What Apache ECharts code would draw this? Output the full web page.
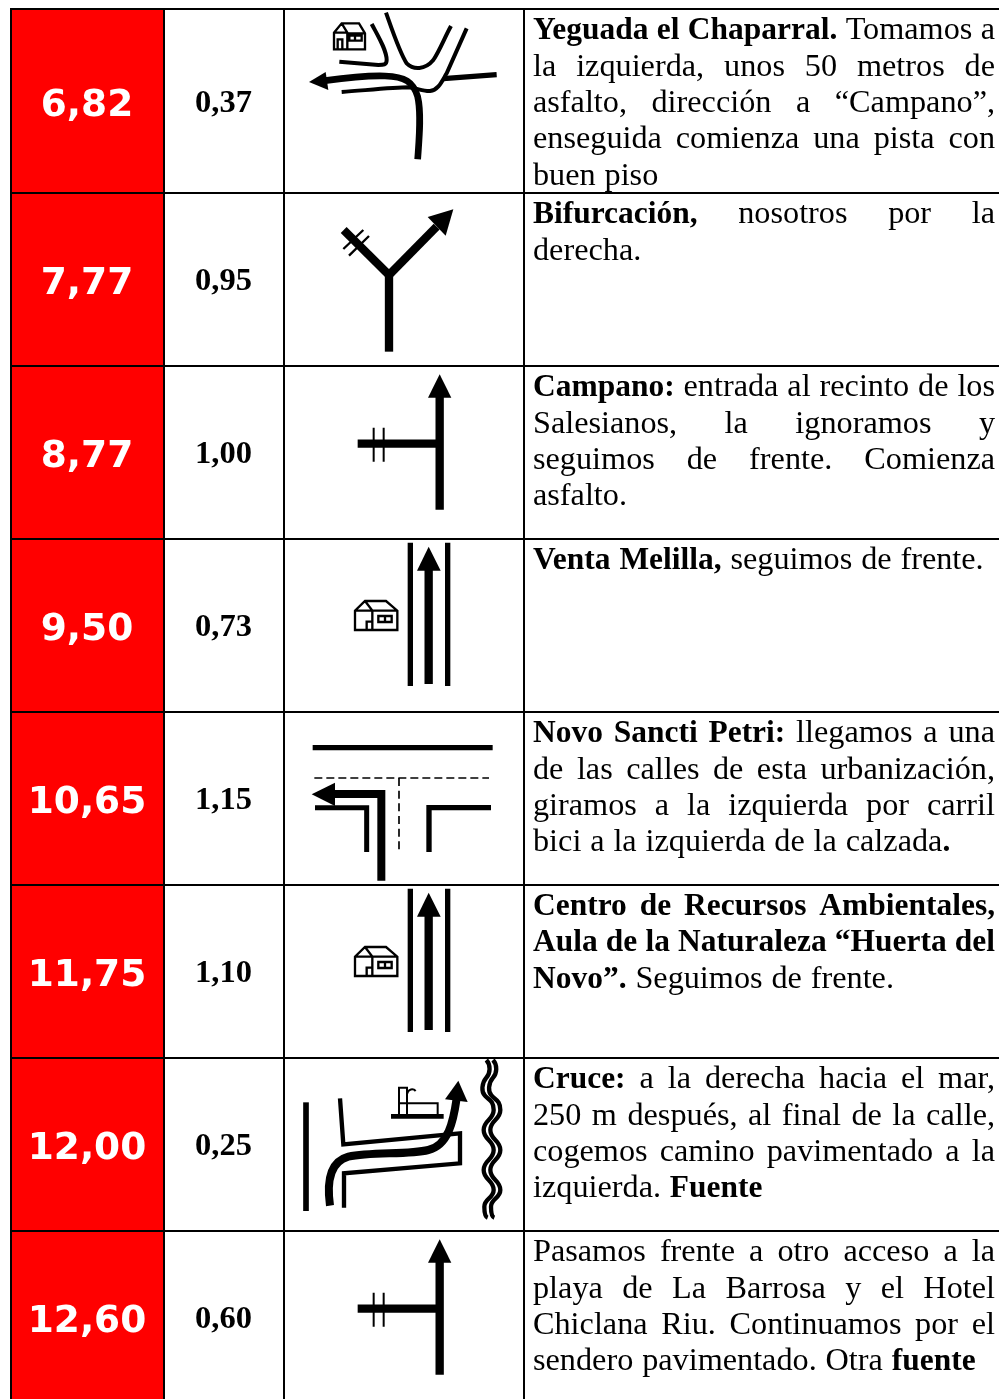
<!DOCTYPE html>
<html>
<head>
<meta charset="utf-8">
<title>Rutómetro</title>
<style>
html, body { margin: 0; padding: 0; background: #fff; overflow: hidden; }
#main { width: 999px; height: 1399px; }
</style>
<script src="https://cdn.jsdelivr.net/npm/echarts@6/dist/echarts.min.js"></script>
</head>
<body>
<div id="main"></div>
<script>
// datos de la tabla
var kmTotal = ['6,82', '7,77', '8,77', '9,50', '10,65', '11,75', '12,00', '12,60'];
var kmParcial = ['0,37', '0,95', '1,00', '0,73', '1,15', '1,10', '0,25', '0,60'];
// *negrita* entre asteriscos, cada elemento es una linea del texto
var descripcion = [
    ['*Yeguada el Chaparral.* Tomamos a', 'la izquierda, unos 50 metros de', 'asfalto, dirección a “Campano”,', 'enseguida comienza una pista con', 'buen piso'],
    ['*Bifurcación,* nosotros por la', 'derecha.'],
    ['*Campano:* entrada al recinto de los', 'Salesianos, la ignoramos y', 'seguimos de frente. Comienza', 'asfalto.'],
    ['*Venta Melilla,* seguimos de frente.'],
    ['*Novo Sancti Petri:* llegamos a una', 'de las calles de esta urbanización,', 'giramos a la izquierda por carril', 'bici a la izquierda de la calzada*.*'],
    ['*Centro de Recursos Ambientales,*', '*Aula de la Naturaleza “Huerta del*', '*Novo”.* Seguimos de frente.'],
    ['*Cruce:* a la derecha hacia el mar,', '250 m después, al final de la calle,', 'cogemos camino pavimentado a la', 'izquierda. *Fuente*'],
    ['Pasamos frente a otro acceso a la', 'playa de La Barrosa y el Hotel', 'Chiclana Riu. Continuamos por el', 'sendero pavimentado. Otra *fuente*']
];
var iconoFila = ['cruce', 'bifurcacion', 'recto', 'casa', 'calles', 'casa', 'fuente', 'recto'];

// bordes de la tabla, en unidades de los ejes
var filas = [9, 193, 366, 539, 712, 885, 1058, 1231, 1404];
var cols = [11, 164, 284, 524, 1002];

// pictogramas: trazos en unidades 3x, con su origen respecto a la celda
var iconos = {
    cruce: {
        dx: 1, dy: -9,
        trazos: [
            ['M398 478C402 420 410 340 398 290C385 245 360 230 300 228C240 226 170 235 120 242', 20],
            ['M635 224L475 236', 16],
            ['M170 276C250 270 330 262 370 262C395 265 420 275 435 273C460 270 470 245 485 220L545 85', 12],
            ['M303 38C325 100 345 160 365 190C385 210 420 210 445 180C465 150 480 110 498 78', 12],
            ['M260 72C280 110 305 150 305 180C305 195 295 195 280 195L163 185', 12],
            ['M147 148V98L170 70H222L240 100V148ZM147 98H187L170 70M187 98V148M187 100H240M158 148V118H172V148M193 107H230V122H193ZM210 107V122', 7]
        ],
        rellenos: ['M72 246L122 216L130 270Z']
    },
    bifurcacion: {
        dx: 1, dy: 2,
        trazos: [
            ['M312 470V240', 25],
            ['M312 240L176 105', 25],
            ['M312 240L455 95', 25],
            ['M175 162L235 105M192 182L252 123', 7]
        ],
        rellenos: ['M505 43L428 66L482 122Z']
    },
    recto: {
        dx: 1, dy: -171,
        trazos: [
            ['M464 944V600', 25],
            ['M218 746H464', 25],
            ['M266 698V800M296 698V800', 6]
        ],
        rellenos: ['M464 538L429 608H499Z']
    },
    casa: {
        dx: 1, dy: 1,
        trazos: [
            ['M376 8V438', 16],
            ['M488 8V438', 16],
            ['M431 90V432', 25],
            ['M210 270V212L240 183H303L337 212V270ZM210 212H262L240 183M262 212V270M262 212H337M245 270V245H262M280 228H320V246H280ZM300 228V246', 7]
        ],
        rellenos: ['M431 20L396 92H467Z']
    },
    calles: {
        dx: 1, dy: -172,
        trazos: [
            ['M83 623H623', 16],
            ['M88 714H612', 5, [24, 12]],
            ['M342 714V942', 5, [24, 14]],
            ['M289 1022V762H140', 24],
            ['M90 803H245V936', 15],
            ['M618 803H432V936', 16]
        ],
        rellenos: ['M80 763L150 728V798Z']
    },
    fuente: {
        dx: 1, dy: -3,
        trazos: [
            ['M63 142V468', 17],
            ['M135 452C125 380 135 320 190 305C260 290 370 300 430 285C490 270 505 200 515 130', 24],
            ['M165 130L175 268L525 235V325L177 355V458', 13],
            ['M318 184H476', 14],
            ['M342 178V98H366V178M342 145H458V178M366 118C370 100 385 100 392 108', 6],
            ['M604 15C618 30 616 55 604 68C590 85 588 110 600 122C610 135 626 135 626 165C626 195 596 195 596 225C596 255 626 255 626 285C626 315 596 315 596 345C596 375 626 375 626 405C626 430 598 430 598 455C598 475 600 485 608 488', 13],
            ['M624 15C638 30 636 55 624 68C610 85 608 110 620 122C630 135 646 135 646 165C646 195 616 195 616 225C616 255 646 255 646 285C646 315 616 315 616 345C616 375 646 375 646 405C646 430 618 430 618 455C618 475 620 485 628 488', 13]
        ],
        rellenos: ['M520 77L480 133L548 141Z']
    }
};

var fuenteTexto = '"Liberation Serif"';
var tamTexto = 31;
var escalaNormal = 1.04;
var escalaNegrita = 1.015;
var altoLinea = 36.4;

var ctx = document.createElement('canvas').getContext('2d');
function anchoPalabra(txt, negrita) {
    ctx.font = (negrita ? 'bold ' : '') + tamTexto + 'px ' + fuenteTexto;
    return ctx.measureText(txt).width * (negrita ? escalaNegrita : escalaNormal);
}

// parte una linea en palabras, cada una con trozos normal/negrita
function palabrasDe(linea) {
    var salida = [];
    var negrita = false;
    linea.split(' ').forEach(function (w) {
        var trozos = [];
        w.split('*').forEach(function (t, i) {
            if (i > 0) negrita = !negrita;
            if (t) trozos.push({ txt: t, negrita: negrita });
        });
        salida.push(trozos);
    });
    return salida;
}

function textoCelda(lineas, x0, x1, y0) {
    var hijos = [];
    var espacio = anchoPalabra(' ', false) * 1.1;
    lineas.forEach(function (linea, n) {
        var palabras = palabrasDe(linea);
        var anchos = palabras.map(function (p) {
            return p.reduce(function (s, t) { return s + anchoPalabra(t.txt, t.negrita); }, 0);
        });
        var total = anchos.reduce(function (s, a) { return s + a; }, 0);
        var hueco = espacio;
        if (n < lineas.length - 1 && palabras.length > 1) {
            hueco = (x1 - x0 - total) / (palabras.length - 1);
        }
        var x = x0;
        var y = y0 + n * altoLinea;
        palabras.forEach(function (p, i) {
            var xt = x;
            p.forEach(function (t) {
                hijos.push({
                    type: 'text',
                    x: xt,
                    y: y,
                    scaleX: t.negrita ? escalaNegrita : escalaNormal,
                    style: {
                        text: t.txt,
                        font: (t.negrita ? 'bold ' : '') + tamTexto + 'px ' + fuenteTexto,
                        fill: '#000',
                        align: 'left',
                        verticalAlign: 'middle'
                    }
                });
                xt += anchoPalabra(t.txt, t.negrita);
            });
            x += anchos[i] + hueco;
        });
    });
    return hijos;
}

function dibujaIcono(ic) {
    var hijos = [];
    ic.trazos.forEach(function (t) {
        hijos.push({
            type: 'path',
            shape: { pathData: t[0] },
            style: { fill: 'none', stroke: '#000', lineWidth: t[1], lineDash: t[2] || null, lineJoin: 'miter' }
        });
    });
    ic.rellenos.forEach(function (d) {
        hijos.push({ type: 'path', shape: { pathData: d }, style: { fill: '#000' } });
    });
    return hijos;
}

function renderFila(params, api) {
    var f = api.value(0);
    var top = api.coord([cols[0], filas[f]]);
    var bot = api.coord([cols[4], filas[f + 1]]);
    var xCol = cols.map(function (c) { return api.coord([c, 0])[0]; });
    var yMid = (top[1] + bot[1]) / 2;
    var negro = { stroke: '#000', lineWidth: 2 };
    var ic = iconos[iconoFila[f]];
    var hijos = [
        { type: 'rect', shape: { x: xCol[0], y: top[1], width: xCol[1] - xCol[0], height: bot[1] - top[1] }, style: { fill: '#ff0000' } },
        { type: 'line', shape: { x1: xCol[0] - 1, y1: top[1], x2: xCol[4], y2: top[1] }, style: negro },
        { type: 'line', shape: { x1: xCol[0], y1: top[1], x2: xCol[0], y2: bot[1] }, style: negro },
        { type: 'line', shape: { x1: xCol[1], y1: top[1], x2: xCol[1], y2: bot[1] }, style: negro },
        { type: 'line', shape: { x1: xCol[2], y1: top[1], x2: xCol[2], y2: bot[1] }, style: negro },
        { type: 'line', shape: { x1: xCol[3], y1: top[1], x2: xCol[3], y2: bot[1] }, style: negro },
        {
            type: 'text', x: (xCol[0] + xCol[1]) / 2 - 0.5, y: yMid + 5,
            style: { text: kmTotal[f], font: 'bold 37.5px "DejaVu Sans"', fill: '#fff', align: 'center', verticalAlign: 'middle' }
        },
        {
            type: 'text', x: (xCol[1] + xCol[2]) / 2 - 0.5, y: yMid + 2.5,
            style: { text: kmParcial[f], font: 'bold 32.5px "Liberation Serif"', fill: '#000', align: 'center', verticalAlign: 'middle' }
        },
        {
            type: 'group', x: xCol[2] + ic.dx, y: top[1] + ic.dy, scaleX: 1 / 3, scaleY: 1 / 3,
            children: dibujaIcono(ic)
        }
    ];
    hijos = hijos.concat(textoCelda(descripcion[f], xCol[3] + 9, 995, top[1] + 22));
    return { type: 'group', children: hijos };
}

var myChart = echarts.init(document.getElementById('main'));
var option = {
    animation: false,
    grid: { left: 0, right: 0, top: 0, bottom: 0 },
    xAxis: { type: 'value', min: 0, max: 999, show: false },
    yAxis: { type: 'value', min: 0, max: 1399, inverse: true, show: false },
    series: [{
        type: 'custom',
        coordinateSystem: 'cartesian2d',
        clip: true,
        renderItem: renderFila,
        data: kmTotal.map(function (k, i) { return [i]; }),
        encode: { x: -1, y: -1 },
        silent: true
    }]
};
myChart.setOption(option);
</script>
</body>
</html>
